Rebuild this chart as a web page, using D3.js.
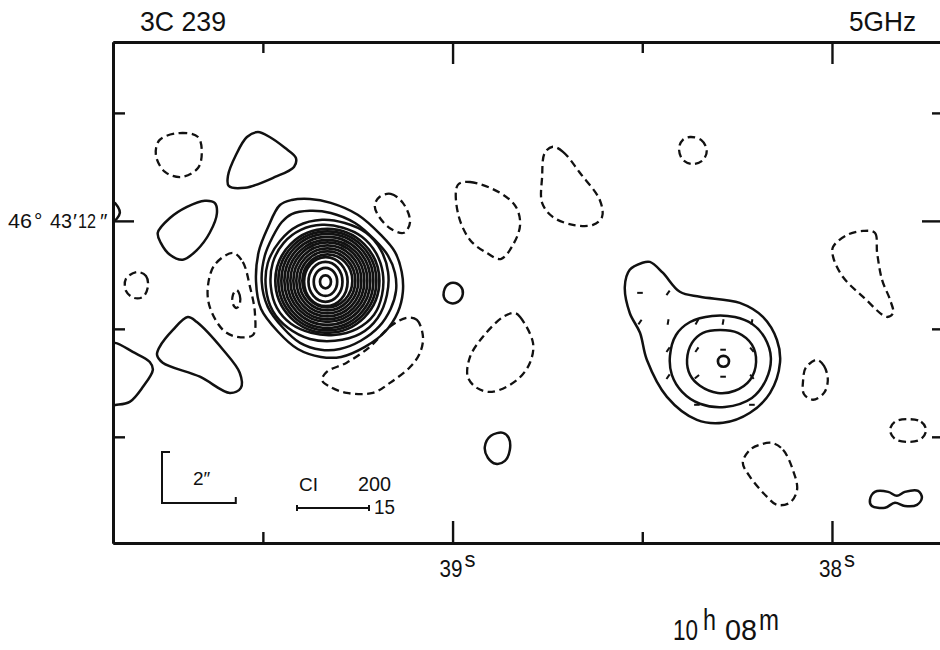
<!DOCTYPE html>
<html>
<head>
<meta charset="utf-8">
<script src="https://cdn.jsdelivr.net/npm/d3@7"></script>
<style>
  body { margin: 0; background: #fff; }
  svg { display: block; }
  text { fill: #111; font-family: "Liberation Sans", Arial, sans-serif; }
</style>
</head>
<body>
<svg id="map" width="940" height="650"></svg>
<script>
// 3C 239, 5 GHz contour map.
// Right ascension in seconds of 10h08m, declination in arcsec of 46°43'.
const raExtent  = [39.895, 37.71];
const decExtent = [16.97, 3.05];
const raMajorTicks = [39, 38];
const raMinorTicks = [39.5, 38.5];
const decMajorTicks = [12];
const decMinorTicks = [15, 9, 6];
const raTickLabels = [39, 38];
const decCentre = 46 + 43 / 60;          // degrees, for the RA scale factor

// Positive contours (solid): [ra s, dec arcsec]
const posNW     = [[39.542,14.33],[39.513,14.47],[39.482,14.33],[39.442,14.03],[39.413,13.75],[39.418,13.50],[39.468,13.22],[39.547,12.92],[39.590,12.97],[39.592,13.25],[39.571,13.83]];
const posW      = [[39.777,11.67],[39.745,12.08],[39.700,12.39],[39.653,12.56],[39.627,12.50],[39.621,12.22],[39.640,11.67],[39.674,11.19],[39.711,10.92],[39.745,11.06],[39.769,11.39]];
const posSW     = [[39.698,9.33],[39.674,9.19],[39.605,8.42],[39.561,7.78],[39.558,7.36],[39.587,7.22],[39.666,7.67],[39.764,8.06],[39.779,8.28],[39.772,8.50],[39.737,8.97]];
const posEdgeS  = [[39.930,7.72],[39.917,8.56],[39.890,8.61],[39.843,8.36],[39.798,8.08],[39.790,7.86],[39.816,7.39],[39.851,6.97],[39.885,6.89],[39.917,6.89]];
const posEdgeN  = [[39.914,12.50],[39.895,12.53],[39.882,12.39],[39.877,12.22],[39.885,12.06],[39.898,11.97],[39.914,12.00]];
const posSpot   = [[38.999,10.28],[38.978,10.17],[38.973,9.97],[38.986,9.75],[39.007,9.72],[39.023,9.89],[39.018,10.17]];
const posOval   = [[38.867,6.11],[38.852,5.97],[38.849,5.64],[38.862,5.33],[38.886,5.25],[38.907,5.42],[38.915,5.72],[38.899,6.03]];
const posPeanut = [[37.900,4.25],[37.887,4.47],[37.852,4.47],[37.829,4.36],[37.808,4.47],[37.773,4.50],[37.763,4.31],[37.776,4.11],[37.808,4.08],[37.834,4.17],[37.860,4.03],[37.895,4.08]];

// Western (bright) component: outer four levels
const coreA = [[39.455,12.44],[39.424,12.58],[39.376,12.61],[39.321,12.50],[39.250,12.17],[39.189,11.61],[39.152,11.14],[39.134,10.58],[39.131,10.03],[39.144,9.47],[39.178,8.92],[39.231,8.50],[39.294,8.22],[39.347,8.22],[39.408,8.44],[39.460,8.92],[39.505,9.56],[39.518,10.31],[39.511,11.14],[39.487,11.81]];
const coreB = [[39.450,11.97],[39.424,12.19],[39.376,12.28],[39.321,12.22],[39.257,11.94],[39.205,11.47],[39.170,11.03],[39.152,10.56],[39.149,10.06],[39.163,9.56],[39.194,9.06],[39.242,8.67],[39.297,8.44],[39.347,8.42],[39.402,8.61],[39.447,9.03],[39.487,9.61],[39.503,10.31],[39.495,11.03],[39.474,11.56]];
const coreC = [[39.344,12.03],[39.284,11.94],[39.228,11.67],[39.189,11.19],[39.170,10.58],[39.173,9.94],[39.197,9.31],[39.244,8.86],[39.310,8.67],[39.376,8.72],[39.434,9.03],[39.474,9.50],[39.492,10.14],[39.487,10.83],[39.455,11.44],[39.408,11.86]];
const coreD = [[39.344,11.89],[39.289,11.81],[39.239,11.56],[39.202,11.11],[39.184,10.56],[39.186,9.94],[39.207,9.39],[39.252,9.00],[39.313,8.83],[39.373,8.89],[39.426,9.14],[39.463,9.58],[39.479,10.17],[39.474,10.83],[39.445,11.39],[39.400,11.75]];
// Inner levels of the western component: [ra, dec, semi-axis E-W ″, semi-axis N-S ″]
const coreRings = [
  [39.335,10.306,0.149,0.181],[39.335,10.306,0.318,0.389],[39.335,10.306,0.461,0.556],[39.334,10.310,0.590,0.681],
  [39.330,10.333,0.678,0.736],[39.330,10.333,0.759,0.819],[39.330,10.333,0.841,0.903],[39.330,10.333,0.922,0.986],
  [39.330,10.333,1.003,1.069],[39.330,10.333,1.085,1.139],[39.330,10.333,1.166,1.222],[39.330,10.333,1.247,1.306],
  [39.330,10.333,1.329,1.375],[39.330,10.333,1.410,1.444]
];

// Eastern component
const eastOuter = [[38.480,10.86],[38.446,10.56],[38.401,10.03],[38.348,9.89],[38.243,9.72],[38.182,9.33],[38.145,8.69],[38.137,8.06],[38.163,7.22],[38.216,6.67],[38.287,6.39],[38.356,6.47],[38.435,7.11],[38.488,8.14],[38.506,8.89],[38.533,9.44],[38.546,10.17],[38.533,10.64],[38.501,10.83]];
const eastMid   = [[38.427,8.25],[38.411,8.83],[38.374,9.19],[38.316,9.36],[38.256,9.33],[38.211,9.14],[38.177,8.75],[38.161,8.19],[38.174,7.58],[38.211,7.08],[38.282,6.83],[38.348,6.92],[38.395,7.25],[38.422,7.72]];
const eastInner = [[38.382,8.14],[38.369,8.61],[38.340,8.89],[38.295,8.97],[38.248,8.89],[38.211,8.56],[38.200,8.08],[38.216,7.58],[38.256,7.28],[38.301,7.22],[38.348,7.42],[38.374,7.72]];
const eastRings = [[38.286,8.097,0.15,0.15]];
// Plotter grid marks inside the eastern component: [ra, dec, angle°]
const eastMarks = [
  [38.506,10.00,0],[38.432,10.00,-55],
  [38.506,9.19,-55],[38.432,9.19,-80],[38.356,9.19,-60],[38.287,9.19,-80],[38.211,9.19,-80],
  [38.432,8.42,-55],[38.356,8.42,-55],[38.287,8.42,0],[38.211,8.42,50],
  [38.432,7.67,-55],[38.356,7.67,-40],[38.287,7.67,0],[38.211,7.67,50],
  [38.356,6.89,0],[38.211,6.89,0]
];

// Negative contours (dashed)
const negNW   = [[39.772,14.25],[39.719,14.44],[39.671,14.33],[39.661,13.89],[39.671,13.47],[39.714,13.22],[39.758,13.36],[39.782,13.83]];
const negW    = [[39.832,10.58],[39.808,10.47],[39.803,10.17],[39.816,9.89],[39.840,9.86],[39.861,10.06],[39.861,10.39]];
const negWC   = [[39.579,11.11],[39.553,10.86],[39.534,10.17],[39.521,9.44],[39.526,8.83],[39.569,8.78],[39.605,8.97],[39.640,9.61],[39.645,10.17],[39.627,10.78]];
const negWCin = [[39.569,10.08],[39.561,9.94],[39.561,9.69],[39.569,9.58],[39.579,9.69],[39.579,9.94]];
const negNE   = [[39.192,12.67],[39.163,12.75],[39.131,12.50],[39.112,11.97],[39.128,11.67],[39.163,11.78],[39.197,12.17],[39.205,12.44]];
const negS    = [[39.120,9.31],[39.094,9.25],[39.078,8.78],[39.086,8.33],[39.112,7.94],[39.165,7.50],[39.210,7.22],[39.279,7.22],[39.323,7.39],[39.344,7.58],[39.331,7.81],[39.279,8.06],[39.218,8.50],[39.165,9.06]];
const negC1   = [[38.986,13.00],[38.954,13.08],[38.875,12.78],[38.833,12.39],[38.822,11.89],[38.841,11.33],[38.873,10.94],[38.910,11.11],[38.954,11.47],[38.986,12.22]];
const negC2   = [[38.736,14.06],[38.709,13.92],[38.664,13.33],[38.612,12.58],[38.606,12.11],[38.630,11.89],[38.683,11.89],[38.736,12.11],[38.764,12.50],[38.764,13.22],[38.757,13.89]];
const negC3   = [[38.836,9.44],[38.822,9.33],[38.788,8.61],[38.796,8.06],[38.830,7.58],[38.896,7.25],[38.936,7.36],[38.960,7.67],[38.954,8.22],[38.920,8.78],[38.867,9.33]];
const negE1   = [[38.374,14.33],[38.345,14.25],[38.330,13.97],[38.340,13.69],[38.369,13.58],[38.395,13.72],[38.403,14.03],[38.393,14.25]];
const negE2   = [[37.918,11.72],[37.887,11.67],[37.881,11.11],[37.868,10.36],[37.847,9.81],[37.839,9.44],[37.855,9.33],[37.918,9.89],[37.971,10.44],[37.997,11.00],[37.997,11.28],[37.960,11.61]];
const negE3   = [[38.040,8.14],[38.021,7.97],[38.011,7.58],[38.021,7.22],[38.050,7.03],[38.074,7.19],[38.076,7.58],[38.069,7.92]];
const negE4   = [[37.800,6.49],[37.765,6.42],[37.752,6.19],[37.765,5.94],[37.800,5.86],[37.834,5.94],[37.847,6.19],[37.834,6.42]];
const negE5   = [[38.158,5.83],[38.129,5.64],[38.103,5.08],[38.092,4.53],[38.111,4.17],[38.145,4.11],[38.171,4.33],[38.216,4.89],[38.235,5.28],[38.216,5.64],[38.190,5.78]];

const solidContours  = [posNW, posW, posSW, posEdgeS, posEdgeN, posSpot, posOval, posPeanut,
                        coreA, coreB, coreC, coreD, eastOuter, eastMid, eastInner];
const dashedContours = [negNW, negW, negWC, negWCin, negNE, negS, negC1, negC2, negC3,
                        negE1, negE2, negE3, negE4, negE5];

// Legend values
const scaleBarArcsec = 2;
const contourInterval = ["CI", "200", "15"];

// ---------------------------------------------------------------
const svg = d3.select("#map");
const plot = { left: 113, right: 942, top: 42, bottom: 543 };

const x = d3.scaleLinear().domain(raExtent).range([plot.left, plot.right]);
const y = d3.scaleLinear().domain(decExtent).range([plot.top, plot.bottom]);
const arcsecPerSecond = 15 * Math.cos(decCentre * Math.PI / 180);
const pxPerArcsecX = Math.abs(x(0) - x(1 / arcsecPerSecond));
const pxPerArcsecY = Math.abs(y(0) - y(1));

svg.append("defs").append("clipPath").attr("id", "frame-clip")
  .append("rect")
  .attr("x", plot.left).attr("y", plot.top)
  .attr("width", plot.right - plot.left).attr("height", plot.bottom - plot.top);

const contourLine = d3.line()
  .x(d => x(d[0]))
  .y(d => y(d[1]))
  .curve(d3.curveCatmullRomClosed.alpha(0.5));

const layer = svg.append("g").attr("clip-path", "url(#frame-clip)");

layer.append("g")
  .selectAll("path").data(solidContours).join("path")
  .attr("d", contourLine)
  .attr("fill", "none").attr("stroke", "#111")
  .attr("stroke-width", 2.5).attr("stroke-linejoin", "round");

layer.append("g")
  .selectAll("path").data(dashedContours).join("path")
  .attr("d", contourLine)
  .attr("fill", "none").attr("stroke", "#111")
  .attr("stroke-width", 2.3)
  .attr("stroke-dasharray", "7.5,4.5");

layer.append("g")
  .selectAll("ellipse").data(coreRings.concat(eastRings)).join("ellipse")
  .attr("cx", d => x(d[0])).attr("cy", d => y(d[1]))
  .attr("rx", d => d[2] * pxPerArcsecX).attr("ry", d => d[3] * pxPerArcsecY)
  .attr("fill", "none").attr("stroke", "#111").attr("stroke-width", 2.7);

layer.append("g")
  .selectAll("line").data(eastMarks).join("line")
  .attr("transform", d => `translate(${x(d[0])},${y(d[1])}) rotate(${d[2]})`)
  .attr("x1", -2.8).attr("x2", 2.8).attr("y1", 0).attr("y2", 0)
  .attr("stroke", "#111").attr("stroke-width", 2);

// ---- frame and ticks (all ticks point inward) ----
function styleAxis(g) {
  g.select(".domain").attr("stroke", "#111").attr("stroke-width", 3);
  g.selectAll(".tick line").attr("stroke", "#111").attr("stroke-width", 2.4);
  g.selectAll(".tick text").remove();
}
const axes = svg.append("g");
const addAxis = (axis, tx, ty) =>
  axes.append("g").attr("transform", `translate(${tx},${ty})`).call(axis).call(styleAxis);

addAxis(d3.axisBottom(x).tickValues(raMajorTicks).tickSize(-22).tickSizeOuter(0), 0, plot.bottom);
addAxis(d3.axisBottom(x).tickValues(raMinorTicks).tickSize(-11).tickSizeOuter(0), 0, plot.bottom);
addAxis(d3.axisTop(x).tickValues(raMajorTicks).tickSize(-22).tickSizeOuter(0), 0, plot.top);
addAxis(d3.axisTop(x).tickValues(raMinorTicks).tickSize(-11).tickSizeOuter(0), 0, plot.top);
addAxis(d3.axisLeft(y).tickValues(decMajorTicks).tickSize(-21).tickSizeOuter(0), plot.left, 0);
addAxis(d3.axisLeft(y).tickValues(decMinorTicks).tickSize(-12).tickSizeOuter(0), plot.left, 0);
addAxis(d3.axisRight(y).tickValues(decMajorTicks).tickSize(-20).tickSizeOuter(0), plot.right, 0);
addAxis(d3.axisRight(y).tickValues(decMinorTicks).tickSize(-10).tickSizeOuter(0), plot.right, 0);

// ---- labels (narrow lettering: glyphs squeezed with textLength) ----
const labels = svg.append("g");
function narrow(sel, len) {
  return sel.attr("textLength", len).attr("lengthAdjust", "spacingAndGlyphs");
}

labels.selectAll("g.ra").data(raTickLabels).join("g")
  .attr("class", "ra")
  .each(function (d) {
    const g = d3.select(this);
    const x0 = x(d) - 13;
    narrow(g.append("text").attr("x", x0).attr("y", 577).attr("font-size", 23).text(d), 23);
    g.append("text").attr("x", x0 + 25).attr("y", 567).attr("font-size", 22).text("s");
  });

const decParts = [["46", 8, 24], ["°", 34, null], ["43", 50, 22], ["′", 73, null], ["12", 78, 18], ["″", 100, null]];
decParts.forEach(([s, px, len]) => {
  const t = labels.append("text").attr("x", px).attr("y", 228).attr("font-size", 21).text(s);
  if (len) narrow(t, len);
});

narrow(labels.append("text").attr("x", 140).attr("y", 31).attr("font-size", 28).text("3C 239"), 86);
narrow(labels.append("text").attr("x", 849).attr("y", 31).attr("font-size", 28).text("5GHz"), 67);

// 10h 08m
narrow(labels.append("text").attr("x", 673).attr("y", 640).attr("font-size", 29).text("10"), 25);
narrow(labels.append("text").attr("x", 703).attr("y", 630).attr("font-size", 29).text("h"), 13);
narrow(labels.append("text").attr("x", 725).attr("y", 640).attr("font-size", 29).text("08"), 32);
narrow(labels.append("text").attr("x", 759).attr("y", 630).attr("font-size", 29).text("m"), 20);

// Angular scale bar (2″ E-W)
const barX0 = 162, barY = 503;
const barX1 = barX0 + scaleBarArcsec * pxPerArcsecX;
labels.append("path")
  .attr("d", `M${barX0 + 8},452 H${barX0} V${barY} H${barX1} V${barY - 6}`)
  .attr("fill", "none").attr("stroke", "#111").attr("stroke-width", 2);
labels.append("text").attr("x", 193).attr("y", 485).attr("font-size", 19)
  .text(scaleBarArcsec + "″");

// Contour-interval key
labels.append("text").attr("x", 299).attr("y", 491).attr("font-size", 19)
  .attr("font-family", "'DejaVu Sans Mono', monospace").text(contourInterval[0]);
narrow(labels.append("text").attr("x", 358).attr("y", 491).attr("font-size", 20).text(contourInterval[1]), 33);
labels.append("path")
  .attr("d", "M297,505 V511 M297,508 H369 M369,505 V511")
  .attr("fill", "none").attr("stroke", "#111").attr("stroke-width", 2);
narrow(labels.append("text").attr("x", 374).attr("y", 514).attr("font-size", 20).text(contourInterval[2]), 21);
</script>
</body>
</html>
